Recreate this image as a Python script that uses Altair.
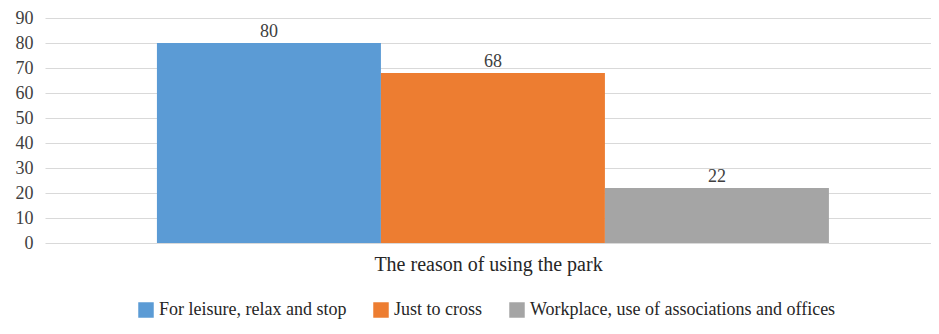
import altair as alt
import pandas as pd

reasons = ["For leisure, relax and stop", "Just to cross", "Workplace, use of associations and offices"]
values = [80, 68, 22]
colors = ["#5B9BD5", "#ED7D31", "#A5A5A5"]

df = pd.DataFrame({"reason": reasons, "value": values})

FONT = "Liberation Serif"

x = alt.X("reason:N", sort=reasons,
          scale=alt.Scale(paddingInner=0, paddingOuter=0.4777, align=0.523),
          axis=alt.Axis(title="The reason of using the park", labels=False, ticks=False,
                        domain=False, titlePadding=11, titleFont=FONT))
y = alt.Y("value:Q", scale=alt.Scale(domain=[0, 90]),
          axis=alt.Axis(title=None, values=list(range(0, 91, 10)), ticks=False, domain=False,
                        labelPadding=12, labelOverlap=False))

bars = alt.Chart(df).mark_bar().encode(
    x=x, y=y,
    color=alt.Color("reason:N", sort=reasons,
                    scale=alt.Scale(domain=reasons, range=colors),
                    legend=alt.Legend(title=None, orient="none", direction="horizontal",
                                      legendX=92, legendY=283, labelFont=FONT,
                                      symbolType="square", symbolSize=240, symbolStrokeWidth=0,
                                      columnPadding=25, labelOffset=4, labelLimit=500))
)

labels = alt.Chart(df).mark_text(baseline="bottom", dy=-2, fontSize=18, color="#404040").encode(
    x=alt.X("reason:N", sort=reasons), y=y, text="value:Q"
)

chart = (bars + labels).properties(
    width=886, height=225,
    autosize=alt.AutoSizeParams(type="none"),
    padding={"left": 37, "top": 10, "right": 0, "bottom": 80},
).configure_view(stroke=None).configure_axis(
    labelFont=FONT, labelFontSize=18, labelColor="#404040",
    titleFontSize=20, titleFontWeight="normal", titleColor="#262626",
    gridColor="#D9D9D9", gridWidth=1,
).configure_legend(
    labelFontSize=18, labelColor="#262626",
).configure_text(font=FONT)

chart.save("out.html", embed_options={"renderer": "svg", "actions": False})
